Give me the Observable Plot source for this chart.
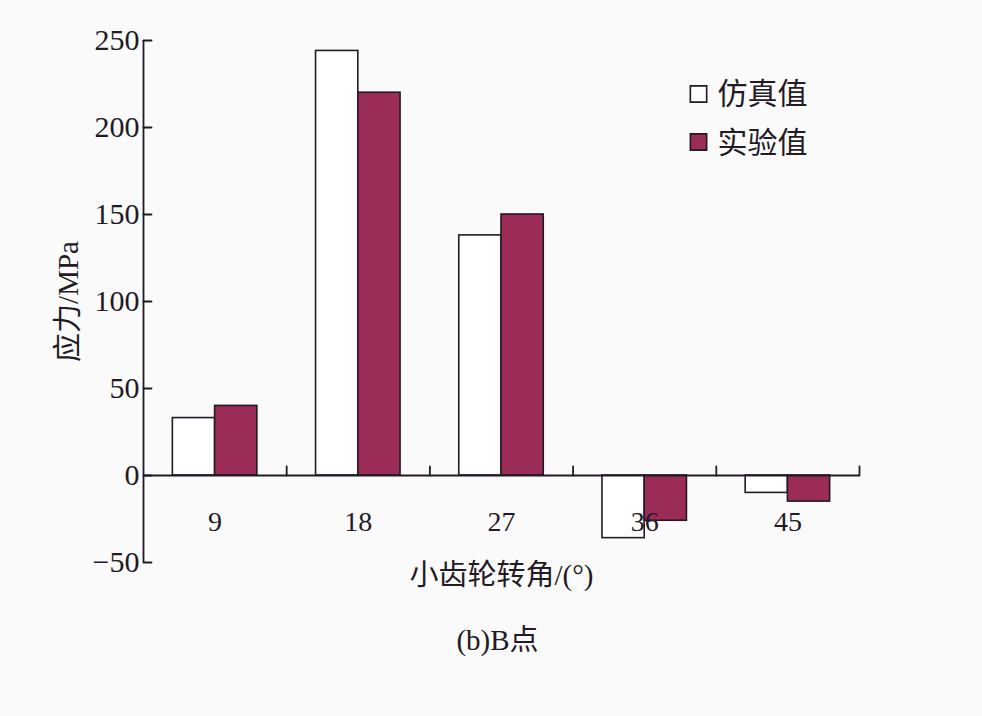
<!DOCTYPE html>
<html>
<head>
<meta charset="utf-8">
<script src="https://cdn.jsdelivr.net/npm/d3@7"></script>
<script src="https://cdn.jsdelivr.net/npm/@observablehq/plot@0.6"></script>
<style>
  body { margin: 0; background: #fafafb; }
</style>
</head>
<body>
<div id="chart"></div>
<script>
const angles = [9, 18, 27, 36, 45];
const simulated = [33, 244, 138, -36, -10];
const experimental = [40, 220, 150, -26, -15];
const seriesNames = ["仿真值", "实验值"];
const yTicks = [-50, 0, 50, 100, 150, 200, 250];
const xTitle = "小齿轮转角/(°)";
const yTitle = "应力/MPa";
const caption = "(b)B点";

const step = 9;            // angle spacing between groups
const pairShare = 0.59;    // share of a group occupied by the two bars
const half = step * pairShare / 2;
const xMin = angles[0] - step / 2;
const xMax = angles[angles.length - 1] + step / 2;
const boundaries = angles.map(a => a + step / 2);

const rows = angles.flatMap((a, i) => [
  {angle: a, series: seriesNames[0], value: simulated[i], x1: a - half, x2: a},
  {angle: a, series: seriesNames[1], value: experimental[i], x1: a, x2: a + half}
]);

const ink = "#231a25";
const fill = ["#ffffff", "#9b2b57"];
const serif = "'Liberation Serif', 'Times New Roman', 'Noto Sans CJK SC', serif";
const cjk = "'Liberation Serif', 'Noto Sans CJK SC', sans-serif";
const lineShape = {draw(context, l) { context.moveTo(0, 0); context.lineTo(0, -l); }};

const legendMarks = seriesNames.flatMap((name, i) => [
  Plot.dot([name], {frameAnchor: "top-left", dx: 555, dy: 53.5 + i * 48, symbol: "square", r: 9.2,
    fill: fill[i], stroke: ink, strokeWidth: 1.6}),
  Plot.text([name], {frameAnchor: "top-left", dx: 574, dy: 53.5 + i * 49.5, text: d => d,
    textAnchor: "start", lineAnchor: "middle", fontSize: 30,
    fontFamily: "'Noto Sans CJK SC', sans-serif", fill: ink})
]);

const chart = Plot.plot({
  width: 982,
  height: 716,
  marginLeft: 143,
  marginRight: 123,
  marginTop: 40,
  marginBottom: 154,
  style: {background: "#fafafb", fontFamily: serif, color: ink},
  x: {domain: [xMin, xMax], axis: null},
  y: {domain: [yTicks[0], yTicks[yTicks.length - 1]], axis: null},
  color: {domain: seriesNames, range: fill},
  marks: [
    Plot.rect(rows, {x1: "x1", x2: "x2", y1: 0, y2: "value", fill: "series", stroke: ink, strokeWidth: 1.6}),
    Plot.ruleY([0], {stroke: ink, strokeWidth: 1.8}),
    Plot.ruleX([xMin], {y1: yTicks[0], y2: yTicks[yTicks.length - 1], stroke: ink, strokeWidth: 1.8}),
    Plot.vector(yTicks, {x: xMin, y: d => d, length: 8, rotate: 90, anchor: "start", shape: lineShape,
      stroke: ink, strokeWidth: 1.8}),
    Plot.vector(boundaries, {x: d => d, y: 0, length: 9, rotate: 0, anchor: "start", shape: lineShape,
      stroke: ink, strokeWidth: 1.8}),
    Plot.text(yTicks, {x: xMin, y: d => d, text: d => d < 0 ? "\u2212" + Math.abs(d) : String(d),
      textAnchor: "end", dx: -4, fontSize: 30, fill: ink}),
    Plot.text(angles, {x: d => d, y: 0, dy: 47, text: d => String(d), fontSize: 28, fill: ink}),
    Plot.text([yTitle], {frameAnchor: "left", dx: -75, rotate: -90, text: d => d, fontSize: 29,
      textAnchor: "middle", lineAnchor: "middle", fontFamily: cjk, fill: ink}),
    Plot.text([xTitle], {frameAnchor: "bottom", dy: 13, text: d => d, fontSize: 29,
      textAnchor: "middle", lineAnchor: "middle", fontFamily: cjk, fill: ink}),
    Plot.text([caption], {frameAnchor: "bottom", dx: -4, dy: 78, text: d => d, fontSize: 29,
      textAnchor: "middle", lineAnchor: "middle", fontFamily: cjk, fill: ink}),
    ...legendMarks
  ]
});
document.getElementById("chart").append(chart);
</script>
</body>
</html>
